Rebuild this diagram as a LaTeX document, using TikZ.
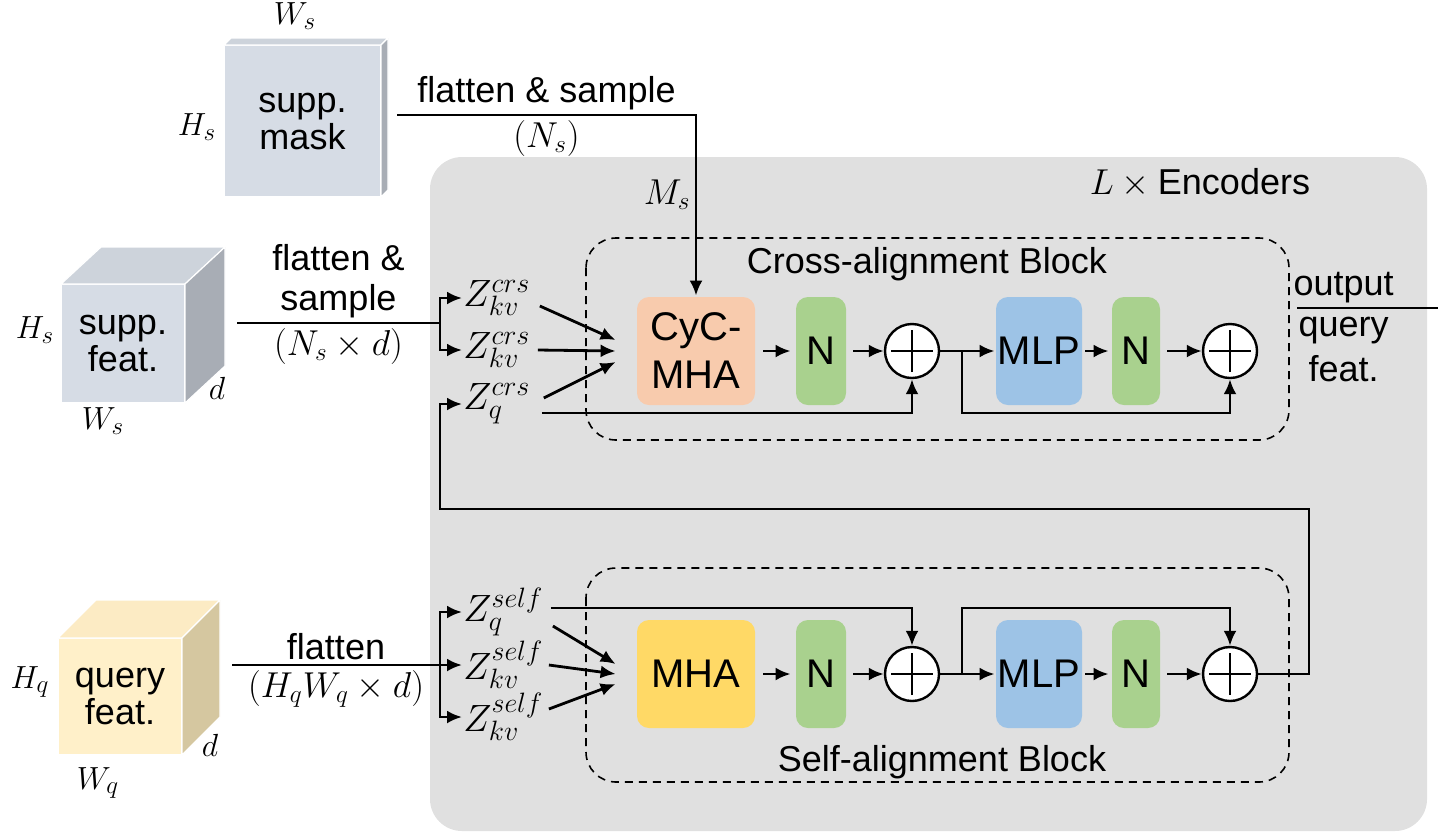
\RequirePackage{fix-cm}
\documentclass[tikz,border=0pt]{standalone}
\usepackage{fontspec}
\setmainfont{Liberation Sans}
\usetikzlibrary{arrows.meta}
\DeclareMathSizes{19}{19}{14}{11}
\DeclareMathSizes{16}{16}{12.5}{10}

\definecolor{bggray}{RGB}{224,224,224}
\definecolor{maskfront}{HTML}{D6DCE5}
\definecolor{masktop}{HTML}{CDD3DB}
\definecolor{maskside}{HTML}{A8ADB5}
\definecolor{qfront}{HTML}{FFF0C9}
\definecolor{qtop}{HTML}{FCEBC4}
\definecolor{qside}{HTML}{D5C7A0}
\definecolor{cycpeach}{HTML}{F8CBAD}
\definecolor{ngreen}{HTML}{A9D18E}
\definecolor{mlpblue}{HTML}{9DC3E6}
\definecolor{mhayellow}{HTML}{FFD966}

\begin{document}
\begin{tikzpicture}[x=0.5pt, y=-0.5pt,
    >={Latex[length=7.5pt,width=6.5pt]},
    font=\fontsize{18}{20}\selectfont,
    line width=1.4pt,
    blk/.style={rounded corners=6pt, minimum height=54pt, inner sep=0pt,
      align=center, font=\fontsize{20}{24}\selectfont},
    addop/.style={circle, draw, fill=white, line width=1.2pt, minimum size=27pt, inner sep=0pt,
      path picture={
        \draw[line width=1.3pt] ([xshift=-10.5pt]path picture bounding box.center) -- ([xshift=10.5pt]path picture bounding box.center);
        \draw[line width=1.3pt] ([yshift=-10.5pt]path picture bounding box.center) -- ([yshift=10.5pt]path picture bounding box.center);}},
    face/.style={draw=white, line width=0.6pt, outer sep=0pt},
    cubetxt/.style={align=center, font=\fontsize{18}{18.5}\selectfont},
    dim/.style={font=\fontsize{16}{18}\selectfont},
    zlab/.style={anchor=west, inner sep=0pt, font=\fontsize{19}{21}\selectfont},
    lbl/.style={inner sep=2pt},
    blockline/.style={draw, line width=0.8pt, dash pattern=on 4pt off 3pt, rounded corners=15pt}]
  \useasboundingbox (0,0) rectangle (1438,832);

  \fill[bggray, rounded corners=16pt] (430,157) rectangle (1427,831);
  \draw[blockline] (586,238) rectangle (1289,440);
  \draw[blockline] (586,568) rectangle (1289,782);

  \node (enc)    at (1200,183) {$L\times{}$Encoders};
  \node (ctitle) at ( 927,264) {Cross-alignment Block};
  \node (stitle) at ( 942,762) {Self-alignment Block};

  \node[face, cubetxt, fill=maskfront, minimum width=78.5pt, minimum height=76pt] (mask) at (302.5,121) {supp.\\mask};
  \filldraw[face, fill=masktop]  (mask.north west) -- ++(7,-7) -- ++(157,0) -- (mask.north east) -- cycle;
  \filldraw[face, fill=maskside] (mask.north east) -- ++(7,-7) -- ++(0,152) -- (mask.south east) -- cycle;

  \node[face, cubetxt, fill=maskfront, minimum width=62pt, minimum height=59.5pt] (sfeat) at (123,343.5) {supp.\\feat.};
  \filldraw[face, fill=masktop]  (sfeat.north west) -- ++(40,-37) -- ++(124,0) -- (sfeat.north east) -- cycle;
  \filldraw[face, fill=maskside] (sfeat.north east) -- ++(40,-37) -- ++(0,119) -- (sfeat.south east) -- cycle;

  \node[face, cubetxt, fill=qfront, minimum width=62pt, minimum height=58.5pt] (qfeat) at (120,696.5) {query\\feat.};
  \filldraw[face, fill=qtop]  (qfeat.north west) -- ++(38,-38) -- ++(124,0) -- (qfeat.north east) -- cycle;
  \filldraw[face, fill=qside] (qfeat.north east) -- ++(38,-38) -- ++(0,117) -- (qfeat.south east) -- cycle;

  \node[dim] (mW) at (295, 16) {$W_s$};
  \node[dim] (mH) at (197,127) {$H_s$};
  \node[dim] (fH) at ( 35,330) {$H_s$};
  \node[dim] (fd) at (217,388) {$d$};
  \node[dim] (fW) at (103,421) {$W_s$};
  \node[dim] (qH) at ( 30,682) {$H_q$};
  \node[dim] (qd) at (210,745) {$d$};
  \node[dim] (qW) at ( 98,783) {$W_q$};

  \node[blk, fill=cycpeach, minimum width=59pt] (cmha) at ( 696,351) {CyC-\\MHA};
  \node[blk, fill=ngreen,   minimum width=25pt] (cn1)  at ( 821,351) {N};
  \node[addop]                                  (cadd1) at (912,351) {};
  \node[blk, fill=mlpblue,  minimum width=43pt] (cmlp) at (1039,351) {MLP};
  \node[blk, fill=ngreen,   minimum width=24pt] (cn2)  at (1136,351) {N};
  \node[addop]                                  (cadd2) at (1230,351) {};

  \node[blk, fill=mhayellow, minimum width=59pt] (smha) at ( 696,674) {MHA};
  \node[blk, fill=ngreen,    minimum width=25pt] (sn1)  at ( 821,674) {N};
  \node[addop]                                   (sadd1) at (912,674) {};
  \node[blk, fill=mlpblue,   minimum width=43pt] (smlp) at (1039,674) {MLP};
  \node[blk, fill=ngreen,    minimum width=24pt] (sn2)  at (1136,674) {N};
  \node[addop]                                   (sadd2) at (1230,674) {};

  \node[zlab] (zc1) at (462,298) {$Z^{crs}_{kv}$};
  \node[zlab] (zc2) at (462,350) {$Z^{crs}_{kv}$};
  \node[zlab] (zc3) at (462,404) {$Z^{crs}_{q}$};
  \node[zlab] (zs1) at (462,612) {$Z^{self}_{q}$};
  \node[zlab] (zs2) at (462,665) {$Z^{self}_{kv}$};
  \node[zlab] (zs3) at (462,717) {$Z^{self}_{kv}$};

  \coordinate (mout)  at ( 397,115);
  \coordinate (sfout) at ( 237,323);
  \coordinate (sfbr)  at ( 440,323);
  \coordinate (qout)  at ( 232,665);
  \coordinate (qbr)   at ( 440,665);
  \coordinate (cbr)   at ( 962,351);
  \coordinate (sbr)   at ( 962,674);
  \coordinate (loopR) at (1309,509);
  \coordinate (loopL) at ( 440,509);
  \coordinate (oin)   at (1297,308);
  \coordinate (oend)  at (1438,308);

  \draw[->] (mout) -| node[lbl, pos=0.25, above] {flatten \& sample}
    node[lbl, pos=0.25, below] {$(N_s)$} node[lbl, pos=0.72, left] {$M_s$} (cmha);
  \draw (sfout) -- node[lbl, above, align=center] {flatten \&\\sample}
    node[lbl, below] {$(N_s\times d)$} (sfbr);
  \draw[->] (sfbr) |- (zc1);
  \draw[->] (sfbr) |- (zc2);
  \draw (qout) -- node[lbl, above] {flatten} node[lbl, below] {$(H_qW_q\times d)$} (qbr);
  \draw[->] (qbr) -- (zs2);
  \draw[->] (qbr) |- (zs1);
  \draw[->] (qbr) |- (zs3);

  \draw[->] ([shift={(8,8)}]zc1.east)  -- ([shift={(-20,-11)}]cmha.west);
  \draw[->] ([shift={(6,0)}]zc2.east)  -- ([shift={(-20,0)}]cmha.west);
  \draw[->] ([shift={(12,-6)}]zc3.east) -- ([shift={(-20,11)}]cmha.west);
  \draw[->] ([shift={(8,14)}]zs1.east) -- ([shift={(-20,-10)}]smha.west);
  \draw[->] ([shift={(4,0)}]zs2.east)   -- ([shift={(-20,0)}]smha.west);
  \draw[->] ([shift={(4,-8)}]zs3.east)  -- ([shift={(-20,10)}]smha.west);

  \draw[->] ([shift={(10,9)}]zc3.east) -| (cadd1);
  \draw[->] ([shift={(6,-4)}]zs1.east) -| (sadd1);

  \draw[->, shorten <=3.5pt, shorten >=2pt] (cmha) -- (cn1);
  \draw[->, shorten <=3pt] (cn1) -- (cadd1);
  \draw[->] (cadd1) -- (cmlp);
  \draw[->, shorten <=1pt, shorten >=1pt] (cmlp) -- (cn2);
  \draw[->, shorten <=3pt] (cn2) -- (cadd2);
  \draw[->] (cbr) -- ++(0,62) -| (cadd2);

  \draw[->, shorten <=3.5pt, shorten >=2pt] (smha) -- (sn1);
  \draw[->, shorten <=3pt] (sn1) -- (sadd1);
  \draw[->] (sadd1) -- (smlp);
  \draw[->, shorten <=1pt, shorten >=1pt] (smlp) -- (sn2);
  \draw[->, shorten <=3pt] (sn2) -- (sadd2);
  \draw[->] (sbr) -- ++(0,-66) -| (sadd2);

  \draw[->] (sadd2) -| (loopR) -- (loopL) |- (zc3);

  \draw (oin) -- node[lbl, pos=0.33, above] {output}
    node[pos=0.33, below, inner sep=4pt, align=center, font=\fontsize{18}{22.5}\selectfont] {query\\feat.} (oend);
\end{tikzpicture}
\end{document}
